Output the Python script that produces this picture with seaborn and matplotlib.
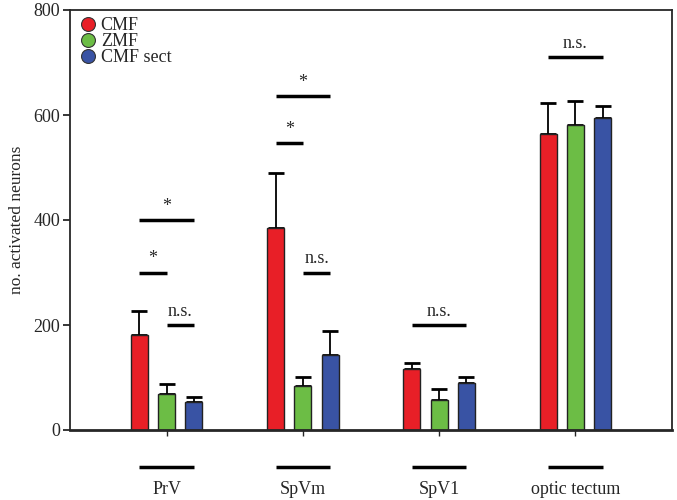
import matplotlib
matplotlib.use("Agg")
import matplotlib.pyplot as plt
import matplotlib.transforms as mtransforms
from matplotlib.lines import Line2D
import pandas as pd
import seaborn as sns

# data
regions = ["PrV", "SpVm", "SpV1", "optic tectum"]
groups = ["CMF", "ZMF", "CMF sect"]
cmf = [181, 384, 116, 564]
zmf = [68, 84, 57, 581]
cmf_sect = [54, 142, 90, 594]
cmf_err = [46, 105, 12, 59]
zmf_err = [19, 17, 22, 46]
cmf_sect_err = [9, 46, 11, 23]
colors = ["#e81f27", "#6cbd45", "#3953a4"]

# significance annotations: region index, x offsets, height, label
sig_region = [0, 0, 0, 1, 1, 1, 2, 3]
sig_x0 = [-0.2, -0.2, 0.0, -0.2, -0.2, 0.0, -0.2, -0.2]
sig_x1 = [0.0, 0.2, 0.2, 0.0, 0.2, 0.2, 0.2, 0.2]
sig_y = [300, 400, 200, 547, 636, 300, 200, 710]
sig_text = ["*", "*", "n.s.", "*", "*", "n.s.", "n.s.", "n.s."]

df = pd.DataFrame({
    "region": regions * 3,
    "group": [g for g in groups for _ in regions],
    "count": cmf + zmf + cmf_sect,
    "err": cmf_err + zmf_err + cmf_sect_err,
})

sns.set_style("ticks")
plt.rcParams["font.family"] = ["Liberation Serif", "DejaVu Serif"]

fig = plt.figure(figsize=(6.77, 5.0), dpi=100)
ax = fig.add_axes([0.1034, 0.14, 0.8892, 0.84])

sns.barplot(data=df, x="region", y="count", hue="group", order=regions,
            hue_order=groups, palette=colors, saturation=1, width=0.6,
            gap=0.375, edgecolor="#222222", linewidth=1.0, errorbar=None,
            legend=False, ax=ax, zorder=2)

# upward error bars on each bar
for container, g in zip(ax.containers, groups):
    sub = df[df["group"] == g].set_index("region").loc[regions]
    xs = [p.get_x() + p.get_width() / 2 for p in container.patches]
    ax.errorbar(xs, sub["count"].values,
                yerr=[[0] * len(xs), sub["err"].values],
                fmt="none", ecolor="black", elinewidth=1.3,
                capsize=6, capthick=2.0, zorder=1)

# significance lines
for r, x0, x1, y, t in zip(sig_region, sig_x0, sig_x1, sig_y, sig_text):
    ax.plot([r + x0, r + x1], [y, y], color="black", lw=2.5,
            solid_capstyle="butt", zorder=3)
    ax.text(r + (x0 + x1) / 2, y + 10, t, ha="center", va="bottom",
            fontsize=13)

ax.set_xlim(-0.71, 3.71)
ax.set_ylim(0, 800)
ax.set_yticks([0, 200, 400, 600, 800])
ax.set_xlabel("")
ax.set_ylabel("no. activated neurons", fontsize=12.5, labelpad=6)
ax.tick_params(axis="y", labelsize=13, length=5, width=1.3,
               direction="out", pad=2)
ax.tick_params(axis="x", length=4, width=1.0, direction="out",
               labelsize=13, pad=33)
for side in ["top", "right", "left"]:
    ax.spines[side].set_linewidth(1.3)
ax.spines["bottom"].set_linewidth(2.0)

# bars under the category labels
trans = mtransforms.blended_transform_factory(ax.transData, ax.transAxes)
for i in range(len(regions)):
    ax.plot([i - 0.2, i + 0.2], [-0.087, -0.087], color="black", lw=2.5,
            transform=trans, clip_on=False, solid_capstyle="butt")

handles = [Line2D([], [], marker="o", linestyle="none", markersize=10,
                  markerfacecolor=c, markeredgecolor="#333333",
                  markeredgewidth=0.8) for c in colors]
ax.legend(handles, groups, loc="upper left", frameon=False, fontsize=13,
          handletextpad=0.1, labelspacing=-0.05, borderaxespad=0.2,
          handlelength=1.2, borderpad=0.2)

fig.savefig("out.png", dpi=100)
